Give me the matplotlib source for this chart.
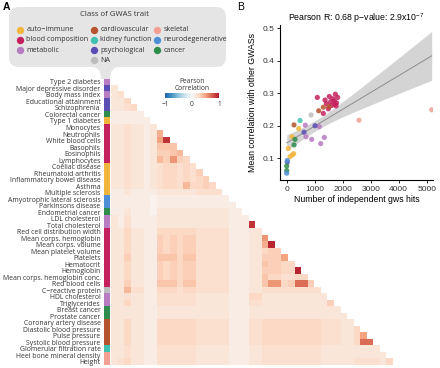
import numpy as np
import matplotlib
matplotlib.use("Agg")
import matplotlib.pyplot as plt
from matplotlib.path import Path
from matplotlib.patches import PathPatch
from matplotlib.colors import LinearSegmentedColormap, Normalize, to_rgb
from matplotlib.cm import ScalarMappable

# ---- data -------------------------------------------------------------
traits = ["Type 2 diabetes", "Major depressive disorder", "Body mass index",
          "Educational attainment", "Schizophrenia", "Colorectal cancer",
          "Type 1 diabetes", "Monocytes", "Neutrophils", "White blood cells",
          "Basophils", "Eosinophils", "Lymphocytes", "Coeliac disease",
          "Rheumatoid arthritis", "Inflammatory bowel disease", "Asthma",
          "Multiple sclerosis", "Amyotrophic lateral sclerosis",
          "Parkinsons disease", "Endometrial cancer", "LDL cholesterol",
          "Total cholesterol", "Red cell distribution width",
          "Mean corps. hemoglobin", "Mean corps. volume",
          "Mean platelet volume", "Platelets", "Hematocrit", "Hemoglobin",
          "Mean corps. hemoglobin conc.", "Red blood cells",
          "C\u2212reactive protein", "HDL cholesterol", "Triglycerides",
          "Breast cancer", "Prostate cancer", "Coronary artery disease",
          "Diastolic blood pressure", "Pulse pressure",
          "Systolic blood pressure", "Glomerular filtration rate",
          "Heel bone mineral density", "Height"]

trait_class = ["metabolic", "psychological", "metabolic", "psychological",
               "psychological", "cancer", "auto-immune"] + \
              ["blood composition"] * 6 + ["auto-immune"] * 5 + \
              ["neurodegenerative"] * 2 + ["cancer", "metabolic", "metabolic"] + \
              ["blood composition"] * 9 + ["NA", "metabolic", "metabolic",
               "cancer", "cancer"] + ["cardiovascular"] * 4 + \
              ["kidney function", "skeletal", "skeletal"]

class_order = ["auto-immune", "blood composition", "metabolic",
               "cardiovascular", "kidney function", "psychological", "NA",
               "skeletal", "neurodegenerative", "cancer"]
class_colors = {"auto-immune": "#f2b53c", "blood composition": "#c51f5d",
                "metabolic": "#b77cc2", "cardiovascular": "#b5532e",
                "kidney function": "#3fc1b2", "psychological": "#5a4db3",
                "NA": "#bdbdbd", "skeletal": "#f3a093",
                "neurodegenerative": "#4d8fd6", "cancer": "#2e8c4c"}

# lower-triangle Pearson correlations, one char per cell: (int(c, 36) + 1) / 20
corr_rows = [
    "",
    "2",
    "23",
    "224",
    "2234",
    "11111",
    "111111",
    "2232212",
    "2232212" "8",
    "2232212" "9h",
    "2232212" "666",
    "2232212" "5567",
    "2232212" "75a54",
    "2232212" "344343",
    "2232212" "344343" "5",
    "2232212" "344343" "45",
    "2232212" "344374" "454",
    "1121111" "222222" "3333",
    "1111110" "111111" "11111",
    "1111110" "111111" "11111" "1",
    "1121110" "222222" "22222" "11",
    "2131111" "222222" "22222" "111",
    "2131111" "222222" "22222" "111" "h",
    "2242211" "444444" "33333" "111" "22",
    "2242211" "545455" "33333" "111" "22" "a",
    "2242211" "545455" "33333" "111" "22" "8i",
    "2242211" "545455" "33333" "111" "22" "455",
    "2252211" "666466" "33333" "111" "22" "5559",
    "2242211" "545455" "33333" "111" "22" "65544",
    "2242211" "545455" "33333" "111" "22" "55544i",
    "2242211" "545455" "33333" "111" "22" "6443344",
    "2252211" "666466" "33333" "111" "22" "6aa45dd5",
    "2273311" "444344" "33333" "111" "22" "333333333",
    "2232211" "333333" "22222" "111" "44" "222222222" "2",
    "2242211" "333333" "22222" "111" "33" "222222222" "2" "5",
    "2222211" "222222" "22222" "111" "22" "222222222" "222",
    "2222211" "222222" "22222" "111" "22" "222222222" "222" "2",
    "2242211" "444444" "33333" "111" "33" "444444444" "3" "33" "22",
    "2242211" "444444" "33333" "111" "33" "444444444" "3" "33" "22" "4",
    "2242211" "444444" "33333" "111" "33" "444444444" "3" "33" "22" "49",
    "2242211" "444444" "33333" "111" "33" "444444444" "3" "33" "22" "4dd",
    "2232211" "333333" "22222" "111" "22" "333333333" "2" "22" "22" "2222",
    "2232211" "333333" "22222" "111" "22" "333333333" "2" "22" "22" "2222" "2",
    "2342211" "333333" "22222" "111" "22" "333333333" "2" "22" "22" "3333" "2" "4",
]

# panel B: hits and mean correlation per trait (same order as traits)
gws_hits = [664, 21, 1164, 1011, 618, 0, 57, 1821, 1736, 1521, 1307, 1700,
            1571, 118, 200, 429, 190, 250, 0, 21, 0, 689, 893, 1093, 1725,
            1761, 1486, 1368, 1650, 1600, 1780, 1420, 868, 1343, 1214, 296,
            261, 261, 1143, 1307, 1511, 475, 2582, 5179]
mean_corr = [0.2015, 0.088, 0.197, 0.200, 0.180, 0.062, 0.130, 0.287, 0.297,
             0.290, 0.238, 0.276, 0.274, 0.105, 0.110, 0.191, 0.166, 0.114,
             0.054, 0.093, 0.076, 0.166, 0.158, 0.287, 0.266, 0.261, 0.252,
             0.279, 0.283, 0.262, 0.270, 0.268, 0.233, 0.164, 0.145, 0.158,
             0.141, 0.2025, 0.246, 0.257, 0.259, 0.216, 0.217, 0.249]

# ---- figure -----------------------------------------------------------
W, H = 440, 368
fig = plt.figure(figsize=(W / 100, H / 100), dpi=100)
lab_font = ["Open Sans", "DejaVu Sans"]
b_font = ["Liberation Sans", "DejaVu Sans"]
plt.rcParams["mathtext.default"] = "regular"
txt_col = "#333333"


def px_axes(x0, y0, x1, y1, **kw):
    return fig.add_axes([x0 / W, 1 - y1 / H, (x1 - x0) / W, (y1 - y0) / H], **kw)


# overlay in pixel coords for the legend bubble and panel letters
ov = px_axes(0, 0, W, H)
ov.set_xlim(0, W)
ov.set_ylim(H, 0)
ov.axis("off")

verts = [(19, 7), (216, 7), (226, 7), (226, 17), (226, 57), (226, 67), (216, 67),
         (119, 67), (110, 67), (110, 79), (101, 79), (101, 67), (92, 67),
         (19, 67), (9, 67), (9, 57), (9, 17), (9, 7), (19, 7)]
codes = [Path.MOVETO, Path.LINETO, Path.CURVE3, Path.CURVE3, Path.LINETO,
         Path.CURVE3, Path.CURVE3, Path.LINETO, Path.CURVE3, Path.CURVE3,
         Path.LINETO, Path.CURVE3, Path.CURVE3, Path.LINETO, Path.CURVE3,
         Path.CURVE3, Path.LINETO, Path.CURVE3, Path.CURVE3]
ov.add_patch(PathPatch(Path(verts, codes), facecolor="#e5e5e5", edgecolor="none"))

ov.text(114, 15, "Class of GWAS trait", ha="center", va="center",
        fontsize=5.6, family=lab_font, color=txt_col)
col_x = [19.5, 93.5, 156.5]
row_y = [29.5, 39.8, 50.1, 60.4]
slots = [(0, 0), (0, 1), (0, 2), (1, 0), (1, 1), (1, 2), (1, 3), (2, 0), (2, 1), (2, 2)]
for cls, (c, r) in zip(class_order, slots):
    ov.scatter(col_x[c], row_y[r], s=28, color=class_colors[cls], linewidths=0)
    ov.text(col_x[c] + 7, row_y[r], cls.replace("-", "\u2212"), va="center",
            fontsize=5.1, family=lab_font, color=txt_col)

ov.text(3, 7, "A", fontsize=7.5, fontweight="bold", family=b_font, va="center")
ov.text(237, 7, "B", fontsize=7.5, family=b_font, va="center")

# ---- panel A: heatmap -------------------------------------------------
n = len(traits)
M = np.full((n, n - 1), np.nan)
for i, row in enumerate(corr_rows):
    for j, ch in enumerate(row):
        M[i, j] = (int(ch, 36) + 1) / 20

cmap = LinearSegmentedColormap.from_list(
    "rdbu9", ["#2166ac", "#4393c3", "#92c5de", "#d1e5f0", "#f7f7f7",
              "#fddbc7", "#f4a582", "#d6604d", "#b2182b"])

ax_hm = px_axes(111, 78.7, 393, 365)
ax_hm.imshow(np.ma.masked_invalid(M), cmap=cmap, vmin=-1, vmax=1, aspect="auto",
             interpolation="nearest", extent=(0, n - 1, n, 0))
ax_hm.axis("off")

ax_st = px_axes(104, 78.7, 110, 365)
strip = np.array([to_rgb(class_colors[c]) for c in trait_class])[:, None, :]
ax_st.imshow(strip, aspect="auto", extent=(0, 1, n, 0), interpolation="nearest")
ax_st.set_xticks([])
ax_st.set_yticks(np.arange(n) + 0.5)
ax_st.set_yticklabels(traits, fontsize=4.95, family=lab_font, color=txt_col)
ax_st.tick_params(axis="y", length=0, pad=2.5)
for s in ax_st.spines.values():
    s.set_visible(False)

ax_cb = px_axes(165, 93, 219, 98)
cb = fig.colorbar(ScalarMappable(Normalize(-1, 1), cmap), cax=ax_cb,
                  orientation="horizontal", ticks=[-1, 0, 1])
cb.outline.set_visible(False)
cb.ax.set_xticklabels(["\u22121", "0", "1"])
cb.ax.tick_params(length=0, pad=2, labelsize=4.8, labelcolor=txt_col)
for t in cb.ax.get_xticklabels():
    t.set_family(lab_font)
ov.text(192, 81.5, "Pearson", ha="center", va="center",
        fontsize=4.8, family=lab_font, color=txt_col)
ov.text(192, 89, "Correlation", ha="center", va="center",
        fontsize=4.8, family=lab_font, color=txt_col)

# ---- panel B: scatter + linear fit ------------------------------------
x = np.array(gws_hits, dtype=float)
y = np.array(mean_corr)
slope, icpt = np.polyfit(x, y, 1)
resid = y - (slope * x + icpt)
s_err = np.sqrt(np.sum(resid ** 2) / (len(x) - 2))
xs = np.linspace(x.min(), x.max(), 200)
se = s_err * np.sqrt(1 / len(x) + (xs - x.mean()) ** 2 / np.sum((x - x.mean()) ** 2))
fit = slope * xs + icpt

ax_b = px_axes(280, 25, 433, 180)
ax_b.fill_between(xs, fit - 2.018 * se, fit + 2.018 * se, color="#d4d4d4", lw=0)
ax_b.plot(xs, fit, color="#8c8c8c", lw=0.7)
ax_b.scatter(x, y, s=14, c=[class_colors[c] for c in trait_class], alpha=0.85,
             linewidths=0, zorder=3)
ax_b.set_xlim(-240, 5225)
ax_b.set_ylim(0.033, 0.51)
ax_b.set_xticks([0, 1000, 2000, 3000, 4000, 5000])
ax_b.set_yticks([0.1, 0.2, 0.3, 0.4, 0.5])
ax_b.set_yticklabels(["0.1", "0.2", "0.3", "0.4", "0.5"])
ax_b.spines[["top", "right"]].set_visible(False)
for s in ax_b.spines.values():
    s.set_linewidth(0.8)
ax_b.tick_params(length=2.5, width=0.6, pad=1.5, labelsize=6, labelcolor=txt_col)
for t in ax_b.get_xticklabels() + ax_b.get_yticklabels():
    t.set_family(b_font)
ax_b.set_xlabel("Number of independent gws hits", fontsize=6.3, family=b_font, labelpad=2)
ax_b.set_ylabel("Mean correlation with other GWASs", fontsize=6.3, family=b_font, labelpad=4)
ax_b.set_title("Pearson R: 0.68 p\u2212value: 2.9x10$^{-7}$", fontsize=6.3,
               family=b_font, pad=2)
ax_b.set_facecolor("none")

fig.savefig("out.png", dpi=100)
